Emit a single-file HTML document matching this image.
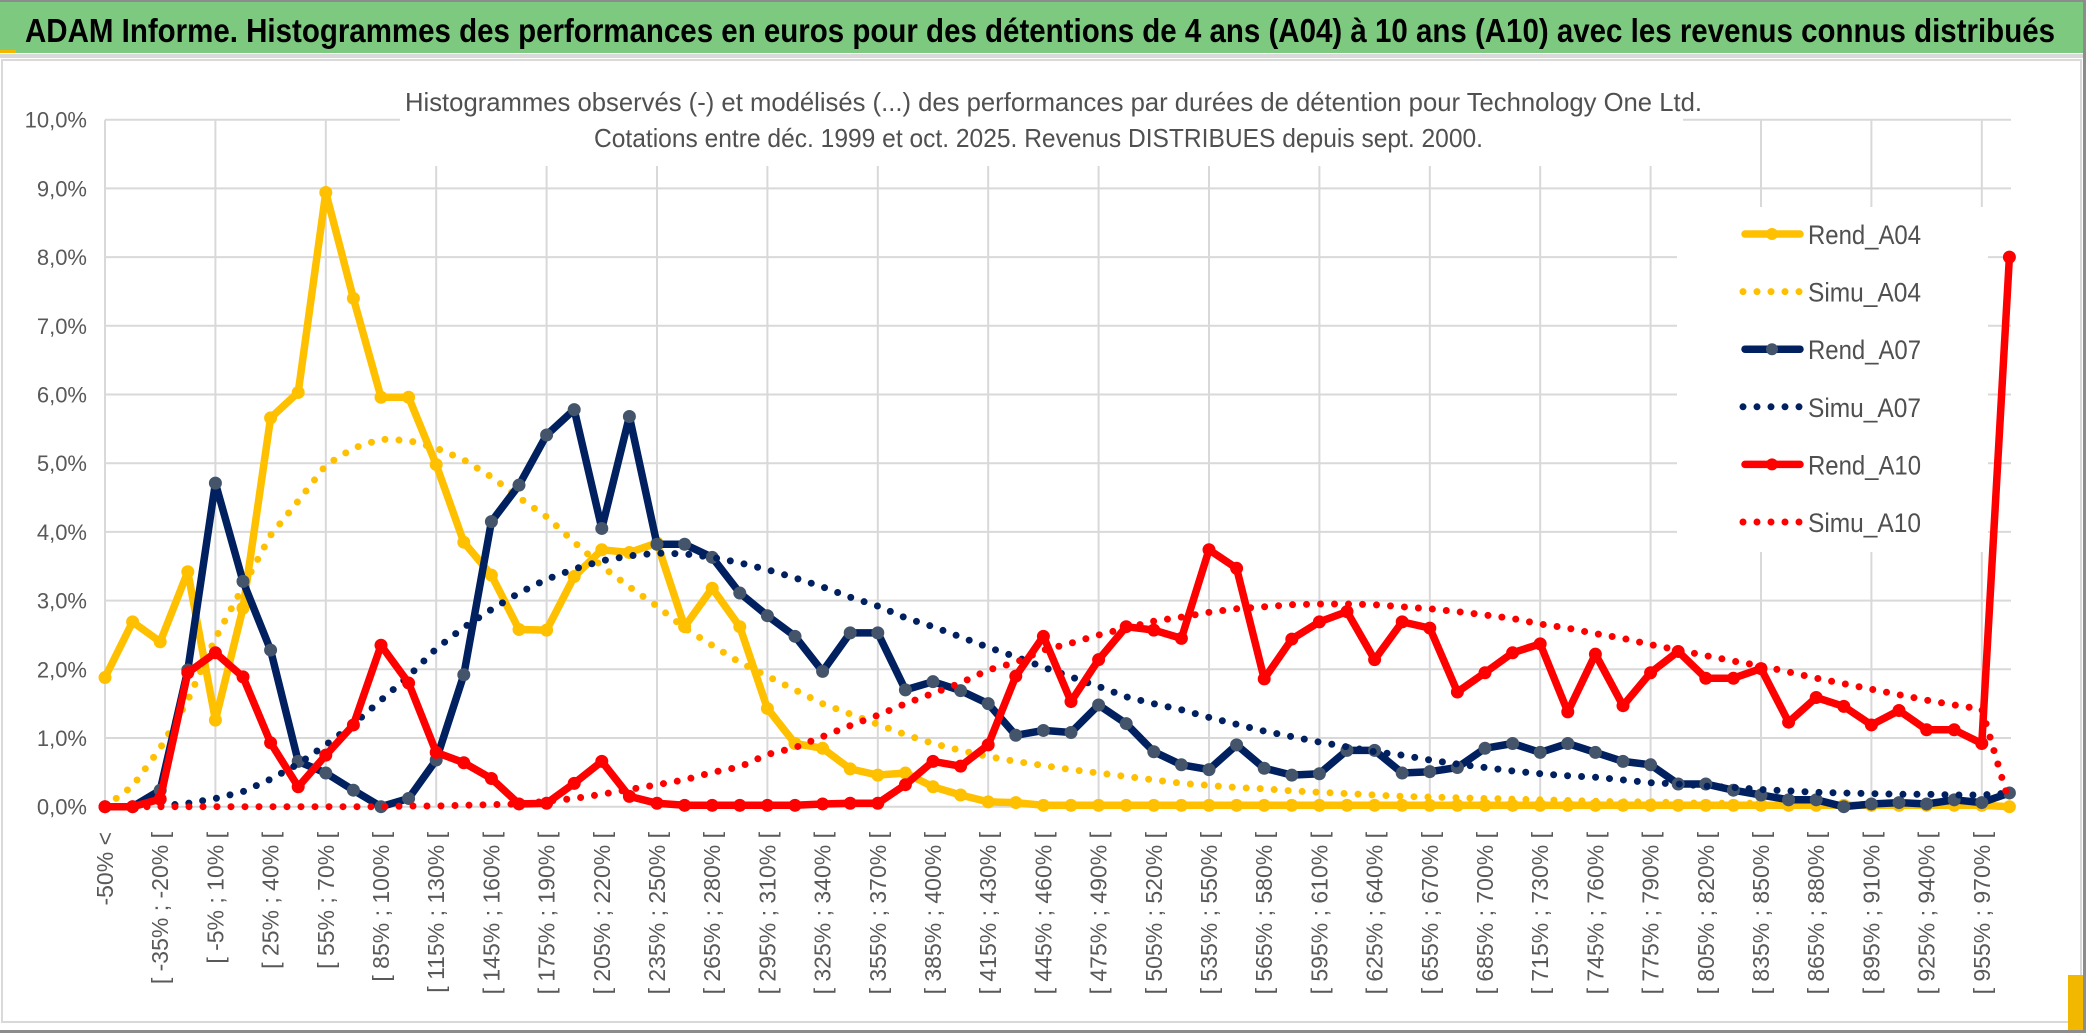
<!DOCTYPE html>
<html><head><meta charset="utf-8"><style>
html,body{margin:0;padding:0;background:#fff;}
svg{display:block;}
text{font-family:"Liberation Sans",sans-serif;}
</style></head><body>
<svg id="chart" width="2086" height="1033" viewBox="0 0 2086 1033" xmlns="http://www.w3.org/2000/svg">
<rect x="0" y="0" width="2086" height="1033" fill="#fff"/>
<rect x="0" y="0" width="2086" height="2" fill="#8c8c8c"/>
<rect x="0" y="2" width="2086" height="51" fill="#7dc97f"/>
<rect x="0" y="50" width="16" height="3" fill="#f2b800"/>
<rect x="0" y="54" width="2086" height="4" fill="#d9d9d9"/>
<text x="25" y="42" font-size="33" font-weight="bold" fill="#000" textLength="2030" lengthAdjust="spacingAndGlyphs">ADAM Informe. Histogrammes des performances en euros pour des détentions de 4 ans (A04) à 10 ans (A10) avec les revenus connus distribués</text>
<rect x="2" y="60" width="2079" height="962" fill="none" stroke="#d9d9d9" stroke-width="2"/>
<rect x="0" y="1030" width="2086" height="3" fill="#8c8c8c"/>
<rect x="2083" y="0" width="3" height="1033" fill="#8c8c8c"/>
<rect x="2068" y="975" width="15" height="55" fill="#f2b800"/>
<g id="grid"></g>
<rect x="400" y="108" width="1283" height="58" fill="#fff"/>
<rect x="1677" y="207" width="311" height="345" fill="#fff"/>
<text x="405" y="111" font-size="26" fill="#505050" textLength="1297" lengthAdjust="spacingAndGlyphs">Histogrammes observés (-) et modélisés (...) des performances par durées de détention pour Technology One Ltd.</text>
<text x="594" y="147" font-size="26" fill="#505050" textLength="889" lengthAdjust="spacingAndGlyphs">Cotations entre déc. 1999 et oct. 2025. Revenus DISTRIBUES depuis sept. 2000.</text>
<g id="yaxis"></g>
<g id="xaxis"></g>
<g id="series"></g>
<g id="legend"></g>
</svg>
<script>
const rendA04 = [1.88,2.69,2.40,3.42,1.26,2.89,5.66,6.03,8.94,7.40,5.96,5.96,4.98,3.85,3.37,2.58,2.57,3.35,3.74,3.70,3.84,2.62,3.18,2.62,1.43,0.92,0.85,0.55,0.46,0.49,0.29,0.17,0.07,0.06,0.02,0.02,0.02,0.02,0.02,0.02,0.02,0.02,0.02,0.02,0.02,0.02,0.02,0.02,0.02,0.02,0.02,0.02,0.02,0.02,0.02,0.02,0.02,0.02,0.02,0.02,0.02,0.02,0.02,0.02,0.02,0.02,0.02,0.02,0.02,0.0];
const simuA04 = [0,0.3,0.85,1.55,2.45,3.2,3.95,4.45,4.97,5.22,5.35,5.33,5.22,5.05,4.8,4.5,4.22,3.85,3.5,3.2,2.92,2.6,2.35,2.1,1.9,1.7,1.5,1.35,1.2,1.05,0.92,0.82,0.73,0.66,0.6,0.54,0.49,0.44,0.39,0.34,0.31,0.28,0.26,0.23,0.21,0.19,0.17,0.15,0.14,0.13,0.12,0.11,0.1,0.09,0.08,0.07,0.07,0.06,0.05,0.05,0.05,0.04,0.04,0.04,0.03,0.03,0.03,0.03,0.03,0.0];
const rendA07 = [0,0,0.24,1.99,4.71,3.28,2.28,0.66,0.49,0.24,0.0,0.12,0.68,1.92,4.15,4.68,5.41,5.78,4.05,5.68,3.82,3.82,3.63,3.11,2.78,2.48,1.97,2.53,2.53,1.70,1.82,1.69,1.50,1.04,1.11,1.08,1.48,1.21,0.80,0.61,0.54,0.90,0.56,0.46,0.48,0.82,0.82,0.49,0.51,0.57,0.85,0.92,0.79,0.92,0.79,0.66,0.61,0.33,0.33,0.24,0.17,0.10,0.10,0.0,0.04,0.06,0.04,0.10,0.06,0.2];
const simuA07 = [0,0,0.01,0.05,0.12,0.22,0.4,0.62,0.9,1.2,1.55,1.9,2.3,2.61,2.87,3.11,3.31,3.46,3.58,3.65,3.69,3.68,3.63,3.55,3.45,3.33,3.2,3.05,2.92,2.75,2.62,2.47,2.32,2.18,2.03,1.89,1.75,1.6,1.5,1.41,1.3,1.2,1.1,1.02,0.94,0.87,0.8,0.75,0.68,0.62,0.57,0.52,0.48,0.45,0.43,0.39,0.35,0.33,0.3,0.28,0.25,0.23,0.21,0.2,0.19,0.18,0.18,0.17,0.17,0.2];
const rendA10 = [0,0,0.11,1.95,2.24,1.89,0.93,0.29,0.75,1.19,2.35,1.80,0.79,0.64,0.41,0.04,0.05,0.34,0.66,0.15,0.05,0.02,0.02,0.02,0.02,0.02,0.04,0.05,0.05,0.32,0.66,0.59,0.90,1.90,2.48,1.53,2.14,2.62,2.57,2.45,3.74,3.47,1.86,2.44,2.69,2.84,2.14,2.69,2.60,1.67,1.95,2.24,2.37,1.38,2.22,1.47,1.95,2.26,1.87,1.87,2.01,1.23,1.59,1.46,1.19,1.40,1.12,1.12,0.92,8.0];
const simuA10 = [0,0,0,0,0,0,0,0,0,0,0,0.01,0.01,0.02,0.03,0.04,0.08,0.12,0.18,0.25,0.32,0.39,0.5,0.58,0.76,0.86,1.02,1.18,1.33,1.5,1.65,1.8,1.99,2.1,2.28,2.38,2.5,2.6,2.7,2.76,2.83,2.88,2.91,2.94,2.95,2.95,2.94,2.91,2.88,2.84,2.79,2.74,2.66,2.6,2.52,2.45,2.36,2.28,2.2,2.12,2.05,1.96,1.87,1.79,1.71,1.63,1.55,1.48,1.42,0.05];
const yTicks = [0,1,2,3,4,5,6,7,8,9,10];
const yTickLabels = ["0,0%","1,0%","2,0%","3,0%","4,0%","5,0%","6,0%","7,0%","8,0%","9,0%","10,0%"];
const categories = ["-50% <"];
for (let i = 1; i < 70; i++) categories.push("[ " + (-65 + 15 * i) + "% ; " + (-50 + 15 * i) + "% [");
const seriesNames = ["Rend_A04","Simu_A04","Rend_A07","Simu_A07","Rend_A10","Simu_A10"];

const NS = "http://www.w3.org/2000/svg";
const X0 = 105, STEP = 27.6, Y0 = 806.7, YU = 68.7;
function xPos(i){ return X0 + i * STEP; }
function yPos(v){ return Y0 - v * YU; }
function mk(tag, attrs, parent){ const e = document.createElementNS(NS, tag); for (const k in attrs) e.setAttribute(k, attrs[k]); parent.appendChild(e); return e; }

const grid = document.getElementById('grid');
const xRight = 2011;
yTicks.forEach((t, k) => {
  const ln = mk('line', {x1: X0, x2: xRight, y1: yPos(t), y2: yPos(t), stroke: '#d9d9d9', 'stroke-width': 2}, grid);
  
  
});
for (let i = 0; i < categories.length; i += 4) {
  const ln = mk('line', {x1: xPos(i), x2: xPos(i), y1: yPos(10), y2: Y0, stroke: '#d9d9d9', 'stroke-width': 2}, grid);
  
  
}

const ya = document.getElementById('yaxis');
yTicks.forEach((t, k) => {
  const tx = mk('text', {x: 87, y: yPos(t) + 8, 'font-size': 22, fill: '#595959', 'text-anchor': 'end'}, ya);
  tx.textContent = yTickLabels[k];
  
  
});

const xa = document.getElementById('xaxis');
categories.forEach((c, i) => {
  if (i % 2) return;
  const x = xPos(i) + 8, y = 832;
  const tx = mk('text', {x: x, y: y, 'font-size': 23, fill: '#595959', 'text-anchor': 'end', transform: 'rotate(-90 ' + x + ' ' + y + ')'}, xa);
  tx.textContent = c;
  
  
});

const sg = document.getElementById('series');
function pts(arr){ return arr.map((v, i) => xPos(i).toFixed(1) + ',' + yPos(v).toFixed(1)).join(' '); }
function solid(arr, color, mfill, name){
  const g = mk('g', {}, sg);
  
  
  mk('polyline', {points: pts(arr), fill: 'none', stroke: color, 'stroke-width': 7.5, 'stroke-linejoin': 'round', 'stroke-linecap': 'round'}, g);
  arr.forEach((v, i) => {
    const c = mk('circle', {cx: xPos(i), cy: yPos(v), r: 6, fill: mfill, stroke: mfill, 'stroke-width': 1}, g);
    
    
  });
}
function dotted(arr, color, name){
  const p = mk('polyline', {points: pts(arr), fill: 'none', stroke: color, 'stroke-width': 7, 'stroke-dasharray': '0 14', 'stroke-linecap': 'round', 'stroke-linejoin': 'round'}, sg);
  
  
}
solid(rendA04, '#ffc000', '#ffc000', 'rend-a04-line');
dotted(simuA04, '#ffc000', 'simu-a04-line');
solid(rendA07, '#002060', '#44546a', 'rend-a07-line');
dotted(simuA07, '#002060', 'simu-a07-line');
solid(rendA10, '#ff0000', '#ff0000', 'rend-a10-line');
dotted(simuA10, '#ff0000', 'simu-a10-line');

const lg = document.getElementById('legend');
const legColors = ['#ffc000','#ffc000','#002060','#002060','#ff0000','#ff0000'];
const legMarker = ['#ffc000',null,'#44546a',null,'#ff0000',null];
seriesNames.forEach((n, k) => {
  const cy = 234 + k * 57.6;
  const g = mk('g', {}, lg);
  
  
  if (legMarker[k]) {
    mk('line', {x1: 1745, x2: 1800, y1: cy, y2: cy, stroke: legColors[k], 'stroke-width': 7.5, 'stroke-linecap': 'round'}, g);
    mk('circle', {cx: 1772, cy: cy, r: 6, fill: legMarker[k]}, g);
  } else {
    mk('line', {x1: 1743, x2: 1802, y1: cy, y2: cy, stroke: legColors[k], 'stroke-width': 7, 'stroke-dasharray': '0 14', 'stroke-linecap': 'round'}, g);
  }
  const tx = mk('text', {x: 1808, y: cy + 10, 'font-size': 27, fill: '#505050', textLength: 113, lengthAdjust: 'spacingAndGlyphs'}, g);
  tx.textContent = n;
});
</script>
</body></html>
